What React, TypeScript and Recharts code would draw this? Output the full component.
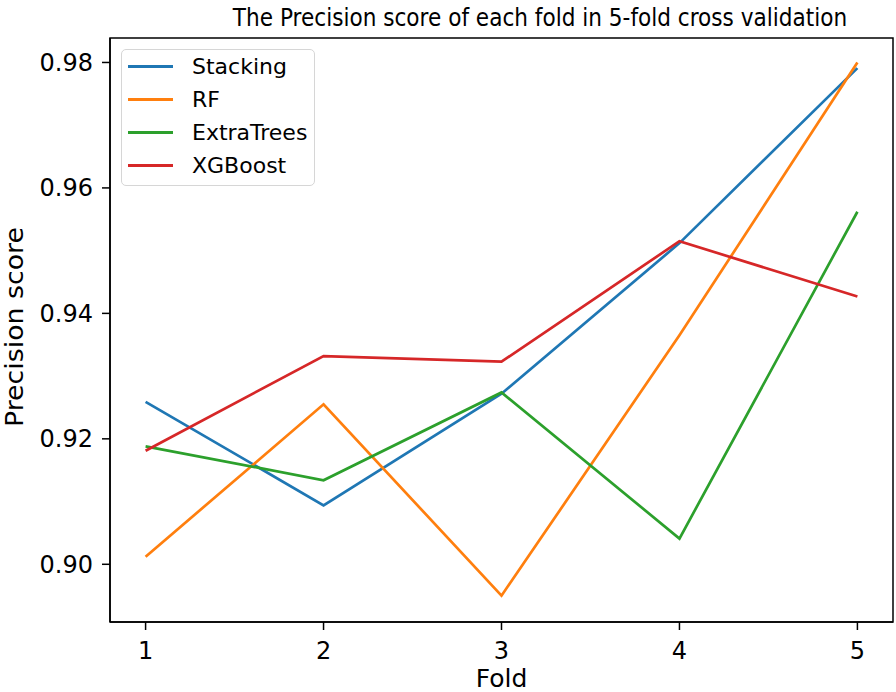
import { LineChart, Line, XAxis, YAxis, Label, ReferenceArea } from "recharts";

const folds = [1, 2, 3, 4, 5];
const stacking = [0.9259, 0.9094, 0.9272, 0.9512, 0.9791];
const rf = [0.9012, 0.9255, 0.895, 0.9365, 0.98];
const extraTrees = [0.9188, 0.9134, 0.9274, 0.9041, 0.9562];
const xgboost = [0.9181, 0.9332, 0.9323, 0.9515, 0.9427];
const yTicks = [0.9, 0.92, 0.94, 0.96, 0.98];

const series = [
    { key: "Stacking", values: stacking, color: "#1f77b4" },
    { key: "RF", values: rf, color: "#ff7f0e" },
    { key: "ExtraTrees", values: extraTrees, color: "#2ca02c" },
    { key: "XGBoost", values: xgboost, color: "#d62728" },
];

const data = folds.map((fold, i) => {
    const row: any = { fold };
    series.forEach((s) => (row[s.key] = s.values[i]));
    return row;
});

const FONT = "'DejaVu Sans', sans-serif";
const X_DOMAIN = [0.8, 5.2];
const Y_DOMAIN = [0.8908, 0.9839];

function YLabel({ viewBox }: any) {
    const cx = 14;
    const cy = viewBox.y + viewBox.height / 2 - 3;
    return (
        <text
            x={cx}
            y={cy}
            transform={`rotate(-90 ${cx} ${cy})`}
            textAnchor='middle'
            dominantBaseline='central'
            fontSize={25}
            fontFamily={FONT}
            fill='#000'
            textLength={200}
            lengthAdjust='spacingAndGlyphs'
        >
            Precision score
        </text>
    );
}

export default function App() {
    const tickStyle = { fontSize: 24, fill: "#000", fontFamily: FONT };
    return (
        <div
            style={{
                position: "absolute",
                left: 0,
                top: 0,
                width: 896,
                height: 692,
                background: "#fff",
                fontFamily: FONT,
            }}
        >
            <svg
                width={896}
                height={40}
                style={{ position: "absolute", left: 0, top: 0 }}
            >
                {/* the title is squeezed sideways in the reference */}
                <g transform='translate(540 26) scale(0.865 1)'>
                    <text
                        x={0}
                        y={0}
                        textAnchor='middle'
                        fontSize={25}
                        fontFamily={FONT}
                        fill='#000'
                    >
                        The Precision score of each fold in 5-fold cross validation
                    </text>
                </g>
            </svg>
            <LineChart
                width={896}
                height={692}
                data={data}
                margin={{ top: 38, right: 3, bottom: 0, left: 60 }}
            >
                <XAxis
                    dataKey='fold'
                    type='number'
                    domain={X_DOMAIN}
                    ticks={folds}
                    allowDataOverflow
                    height={70}
                    tickSize={8}
                    tickMargin={12}
                    tick={tickStyle}
                    stroke='#000'
                    axisLine={{ stroke: "#000", strokeWidth: 1.5 }}
                    tickLine={{ stroke: "#000", strokeWidth: 1.5 }}
                >
                    <Label
                        value='Fold'
                        position='insideBottom'
                        offset={5}
                        fontSize={25}
                        fill='#000'
                        fontFamily={FONT}
                    />
                </XAxis>
                <YAxis
                    type='number'
                    domain={Y_DOMAIN}
                    ticks={yTicks}
                    allowDataOverflow
                    width={50}
                    tickSize={8}
                    tickMargin={9}
                    tick={tickStyle}
                    tickFormatter={(v: number) => v.toFixed(2)}
                    axisLine={{ stroke: "#000", strokeWidth: 1.5 }}
                    tickLine={{ stroke: "#000", strokeWidth: 1.5 }}
                >
                    <Label content={<YLabel />} />
                </YAxis>
                <ReferenceArea
                    x1={X_DOMAIN[0]}
                    x2={X_DOMAIN[1]}
                    y1={Y_DOMAIN[0]}
                    y2={Y_DOMAIN[1]}
                    fill='none'
                    fillOpacity={0}
                    stroke='#000'
                    strokeWidth={1.5}
                    ifOverflow='visible'
                />
                {series.map((s) => (
                    <Line
                        key={s.key}
                        dataKey={s.key}
                        stroke={s.color}
                        strokeWidth={2.7}
                        dot={false}
                        isAnimationActive={false}
                    />
                ))}
            </LineChart>
            <div
                style={{
                    position: "absolute",
                    left: 121,
                    top: 49,
                    width: 194,
                    height: 137,
                    boxSizing: "border-box",
                    border: "1.5px solid #d6d6d6",
                    borderRadius: 5,
                    background: "#fff",
                }}
            >
                {series.map((s, i) => (
                    <div
                        key={s.key}
                        style={{
                            position: "absolute",
                            left: 0,
                            top: i * 33,
                            height: 33,
                            display: "flex",
                            alignItems: "center",
                        }}
                    >
                        <div
                            style={{
                                marginLeft: 6,
                                width: 45,
                                height: 2.5,
                                background: s.color,
                            }}
                        />
                        <span
                            style={{
                                marginLeft: 19,
                                fontSize: 22,
                                color: "#000",
                                whiteSpace: "nowrap",
                            }}
                        >
                            {s.key}
                        </span>
                    </div>
                ))}
            </div>
        </div>
    );
}
